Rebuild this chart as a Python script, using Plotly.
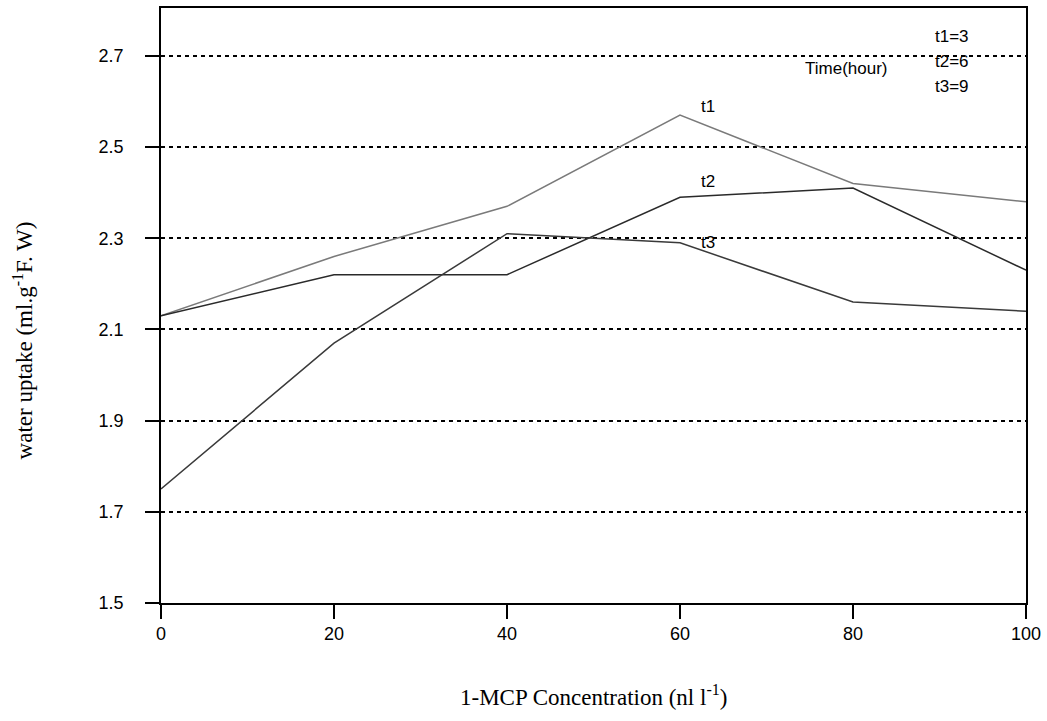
import plotly.graph_objects as go

concentration = [0, 20, 40, 60, 80, 100]
t1_values = [2.13, 2.26, 2.37, 2.57, 2.42, 2.38]
t2_values = [2.13, 2.22, 2.22, 2.39, 2.41, 2.23]
t3_values = [1.75, 2.07, 2.31, 2.29, 2.16, 2.14]
y_ticks = [1.5, 1.7, 1.9, 2.1, 2.3, 2.5, 2.7]
x_ticks = [0, 20, 40, 60, 80, 100]

series = [("t1", t1_values, "#7a7a7a"), ("t2", t2_values, "#2a2a2a"), ("t3", t3_values, "#3a3a3a")]

fig = go.Figure()
for name, vals, col in series:
    fig.add_trace(go.Scatter(x=concentration, y=vals, mode="lines", name=name,
                             line=dict(color=col, width=1.5), showlegend=False))

sans = "Liberation Sans, Arial, sans-serif"
serif = "Liberation Serif, Times New Roman, serif"

label_pos = [("t1", 63.2, 2.589), ("t2", 63.2, 2.425), ("t3", 63.2, 2.290)]
annotations = []
for txt, x, y in label_pos:
    annotations.append(dict(x=x, y=y, xref="x", yref="y", text=txt, showarrow=False,
                            font=dict(family=sans, size=17, color="black")))

legend_texts = [("t1=3", 89.2, 2.742), ("t2=6", 89.2, 2.687), ("t3=9", 89.2, 2.632)]
for txt, x, y in legend_texts:
    annotations.append(dict(x=x, y=y, xref="x", yref="y", text=txt, showarrow=False,
                            xanchor="left", font=dict(family=sans, size=17, color="black")))
annotations.append(dict(x=79.3, y=2.672, xref="x", yref="y", text="Time(hour)", showarrow=False,
                        font=dict(family=sans, size=17, color="black")))

annotations.append(dict(x=-0.178, y=0.4405, xref="paper", yref="paper", textangle=-90,
                        text="water uptake (ml.g<sup>-1</sup>F. W)", showarrow=False,
                        font=dict(family=serif, size=23, color="black")))
annotations.append(dict(x=0.5, y=-0.183, xref="paper", yref="paper",
                        text="1-MCP Concentration (nl l<sup>-1</sup>)", showarrow=False,
                        font=dict(family=serif, size=23, color="black")))

fig.update_layout(
    width=1047, height=721,
    margin=dict(l=161, r=18, t=6, b=118),
    paper_bgcolor="white", plot_bgcolor="white",
    annotations=annotations,
    xaxis=dict(range=[0, 100], tickvals=x_ticks, ticktext=[str(v) for v in x_ticks],
               showgrid=False, zeroline=False, showline=True, mirror=True,
               linecolor="black", linewidth=1.5, ticks="outside", ticklen=14,
               tickwidth=1.5, tickcolor="black",
               tickfont=dict(family=sans, size=18, color="black")),
    yaxis=dict(range=[1.5, 2.805], tickvals=y_ticks, ticktext=["%.1f" % v for v in y_ticks],
               showgrid=True, gridcolor="black", gridwidth=1.5, griddash="4px,4px",
               zeroline=False, showline=True, mirror=True,
               linecolor="black", linewidth=1.5, ticks="outside", ticklen=14,
               tickwidth=1.5, tickcolor="black", ticklabelstandoff=18,
               tickfont=dict(family=sans, size=18, color="black")),
)

fig.write_html("out.html")
